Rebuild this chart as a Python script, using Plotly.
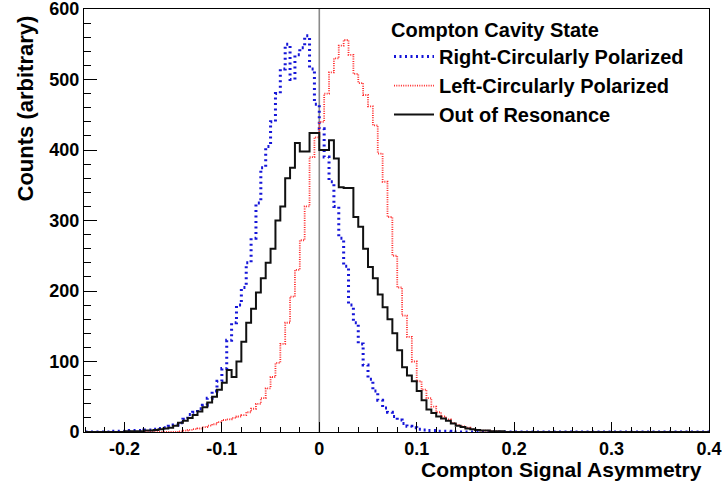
import plotly.graph_objects as go

# Histogram binning: 128 bins of width 0.005 starting at -0.24
bin_start = -0.24
bin_width = 0.005
n_bins = 128

# Right-Circularly Polarized (blue), counts per bin starting at -0.24
right_pol = [0, 0, 0, 0, 0, 1, 1, 1, 1, 2, 2, 2, 3, 3, 4, 5, 6, 8, 10, 13,
             18, 25, 28, 33, 38, 48, 58, 72, 90, 130, 155, 180, 205, 240, 275, 325, 375, 405, 440, 480,
             515, 550, 500, 535, 545, 562, 515, 465, 430, 390, 355, 320, 275, 235, 180, 155, 125, 95, 75, 58,
             45, 34, 28, 22, 17, 12, 8, 6, 4, 3, 2, 2, 1, 1, 1]

# Left-Circularly Polarized (red)
left_pol = [0, 0, 0, 0, 0, 0, 0, 0, 0, 0, 0, 0, 0, 0, 0, 0, 0, 0, 0, 1,
            2, 3, 4, 5, 7, 9, 11, 14, 17, 18, 20, 22, 24, 28, 33, 40, 48, 62, 78, 98,
            125, 155, 192, 230, 272, 320, 390, 418, 440, 480, 510, 530, 548, 556, 535, 508, 495, 478, 462, 435,
            395, 355, 305, 250, 205, 165, 135, 100, 72, 60, 48, 36, 28, 22, 18, 13, 10, 8, 6, 4,
            3, 2, 2, 1, 1]

# Out of Resonance (black)
out_res = [0, 0, 0, 0, 0, 0, 0, 0, 1, 1, 1, 1, 2, 2, 3, 4, 5, 6, 9, 13,
           16, 20, 24, 29, 35, 42, 50, 60, 70, 88, 78, 100, 128, 155, 175, 198, 218, 240, 260, 300,
           320, 360, 375, 410, 398, 398, 424, 424, 400, 400, 414, 388, 347, 346, 346, 305, 291, 260, 234, 218,
           195, 177, 160, 140, 116, 92, 80, 72, 58, 45, 32, 27, 22, 19, 16, 12, 9, 7, 5, 4,
           3, 2, 2, 1, 1, 1]

x_ticks = [-0.2, -0.1, 0, 0.1, 0.2, 0.3, 0.4]
x_tick_labels = ["-0.2", "-0.1", "0", "0.1", "0.2", "0.3", "0.4"]
y_ticks = [0, 100, 200, 300, 400, 500, 600]

edges = [round(bin_start + i * bin_width, 6) for i in range(n_bins + 1)]


def step(values):
    vals = list(values) + [0] * (n_bins - len(values))
    return edges, vals + [vals[-1]]


FONT = "Liberation Sans"
fig = go.Figure()

series = [
    ("<b>Right-Circularly Polarized</b>", right_pol, dict(color="#1515d8", width=3, dash="2px,3.5px")),
    ("<b>Left-Circularly Polarized</b>", left_pol, dict(color="#ff2a2a", width=1.8, dash="1px,1.3px")),
    ("<b>Out of Resonance</b>", out_res, dict(color="#111111", width=2)),
]
for name, vals, line in series:
    xs, ys = step(vals)
    fig.add_trace(go.Scatter(x=xs, y=ys, mode="lines", line_shape="hv", name=name, line=line))

fig.add_shape(type="line", xref="x", yref="paper", x0=0, x1=0, y0=0, y1=1,
              line=dict(color="#8a8a8a", width=1.6), layer="below")

tickfont = dict(family=FONT, size=18, color="black", weight="bold")
fig.update_xaxes(range=[-0.2415, 0.4], tickvals=x_ticks, ticktext=x_tick_labels,
                 ticks="inside", ticklen=10, tickwidth=1, tickcolor="black",
                 minor=dict(ticks="inside", ticklen=5, dtick=0.02, tick0=0, tickcolor="black"),
                 showline=True, linecolor="black", linewidth=1, mirror=True,
                 showgrid=False, zeroline=False, tickfont=tickfont, automargin=False,
                 ticklabeloverflow="allow")
fig.update_yaxes(range=[0, 600], tickvals=y_ticks,
                 ticks="inside", ticklen=13, tickwidth=1, tickcolor="black",
                 minor=dict(ticks="inside", ticklen=7, dtick=20, tick0=0, tickcolor="black"),
                 showline=True, linecolor="black", linewidth=1, mirror=True,
                 showgrid=False, zeroline=False, tickfont=tickfont, automargin=False,
                 ticklabeloverflow="allow")

fig.add_annotation(text="<b>Compton Signal Asymmetry</b>", xref="paper", yref="paper",
                   x=0.992, y=-0.088, xanchor="right", yanchor="middle", showarrow=False,
                   font=dict(family=FONT, size=21, color="black"))
fig.add_annotation(text="<b>Counts (arbitrary)</b>", xref="paper", yref="paper",
                   x=-0.094, y=0.99, xanchor="center", yanchor="top", textangle=-90, showarrow=False,
                   font=dict(family=FONT, size=22, color="black"))

fig.update_layout(
    width=722, height=487,
    margin=dict(l=84, r=13, t=9, b=55, autoexpand=False),
    paper_bgcolor="white", plot_bgcolor="white",
    showlegend=True,
    legend=dict(x=0.488, y=0.995, xanchor="left", yanchor="top",
                bgcolor="rgba(255,255,255,0)", borderwidth=0, itemwidth=40,
                font=dict(family=FONT, size=20, color="black"),
                title=dict(text="<b>Compton Cavity State</b>", font=dict(family=FONT, size=20, color="black")),
                tracegroupgap=0),
)

fig.write_html("out.html", config={"displayModeBar": False},
               post_script="document.body.style.margin='0px';")
